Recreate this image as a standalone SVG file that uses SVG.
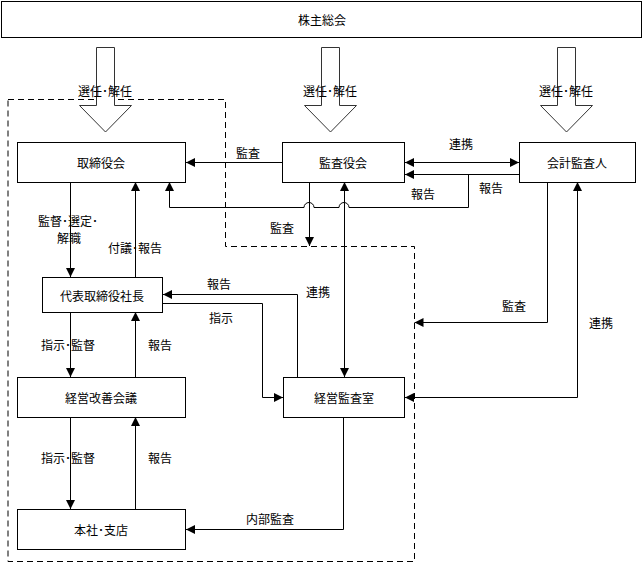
<svg xmlns="http://www.w3.org/2000/svg" width="644" height="564" viewBox="0 0 644 564">
<style>
text{font-family:"Noto Sans CJK JP","Noto Sans CJK SC",sans-serif;font-size:12px;fill:#000;text-anchor:middle;dominant-baseline:central}
.box{fill:#fff;stroke:#000;stroke-width:1}
.ln{fill:none;stroke:#000;stroke-width:1}
.dash{fill:none;stroke:#000;stroke-width:1;stroke-dasharray:6 4}
.big{fill:#fff;stroke:#333;stroke-width:1}
</style>
<defs>
<marker id="ah" viewBox="0 0 10 10" refX="10" refY="5" markerWidth="9" markerHeight="9" markerUnits="userSpaceOnUse" orient="auto-start-reverse">
<path d="M0,0 L10,5 L0,10 Z" fill="#000"/>
</marker>
</defs>
<rect width="644" height="564" fill="#fff"/>
<path class="dash" d="M8,99.5 H225.5 V246.5 H414.5 V561.5 H8 Z"/>
<g id="n0"><rect class="box" x="1.5" y="1.5" width="640" height="36"/><text x="322" y="19">株主総会</text></g>
<g id="bigarrows">
<path class="big" d="M96.5,47.5 H114.5 V105.5 H131.5 L105.5,132 L79.5,105.5 H96.5 Z"/>
<path class="big" d="M321.5,47.5 H339.5 V105.5 H356.5 L330.5,132 L304.5,105.5 H321.5 Z"/>
<path class="big" d="M557.5,47.5 H575.5 V105.5 H592.5 L566.5,132 L540.5,105.5 H557.5 Z"/>
<text x="105" y="90">選任･解任</text>
<text x="330" y="90">選任･解任</text>
<text x="566" y="90">選任･解任</text>
</g>
<g id="connectors">
<path class="ln" marker-end="url(#ah)" d="M282,162.5 H186"/>
<path class="ln" marker-start="url(#ah)" marker-end="url(#ah)" d="M405,162.5 H519"/>
<path class="ln" marker-end="url(#ah)" d="M519,174.5 H405"/>
<path class="ln" marker-end="url(#ah)" d="M468.5,174.5 V207.5 H349 A5,5 0 0 0 339,207.5 H314 A5,5 0 0 0 304,207.5 H169.5 V182"/>
<path class="ln" marker-end="url(#ah)" d="M309.5,182 V246"/>
<path class="ln" marker-start="url(#ah)" marker-end="url(#ah)" d="M344.5,182 V377"/>
<path class="ln" marker-end="url(#ah)" d="M70.5,182 V277"/>
<path class="ln" marker-end="url(#ah)" d="M135.5,277 V182"/>
<path class="ln" marker-end="url(#ah)" d="M297.5,377 V294.5 H163"/>
<path class="ln" marker-end="url(#ah)" d="M163,303.5 H262.5 V397.5 H283"/>
<path class="ln" marker-end="url(#ah)" d="M547.5,182 V322.5 H414.5"/>
<path class="ln" marker-start="url(#ah)" marker-end="url(#ah)" d="M577.5,182 V397.5 H405"/>
<path class="ln" marker-end="url(#ah)" d="M70.5,312 V377"/>
<path class="ln" marker-end="url(#ah)" d="M135.5,377 V312"/>
<path class="ln" marker-end="url(#ah)" d="M70.5,417 V509"/>
<path class="ln" marker-end="url(#ah)" d="M135.5,509 V417"/>
<path class="ln" marker-end="url(#ah)" d="M343.5,417 V529.5 H186"/>
<text x="248" y="152">監査</text>
<text x="461" y="143">連携</text>
<text x="491" y="187">報告</text>
<text x="423" y="193">報告</text>
<text x="282" y="227">監査</text>
<text x="318" y="291">連携</text>
<text x="68" y="220">監督･選定･</text>
<text x="69" y="237">解職</text>
<text x="135" y="247">付議･報告</text>
<text x="219" y="283">報告</text>
<text x="221" y="317">指示</text>
<text x="514" y="305">監査</text>
<text x="601" y="322">連携</text>
<text x="68" y="344">指示･監督</text>
<text x="160" y="344">報告</text>
<text x="68" y="457">指示･監督</text>
<text x="160" y="457">報告</text>
<text x="270" y="518">内部監査</text>
</g>
<g id="n1"><rect class="box" x="17.5" y="142.5" width="168" height="40"/><text x="101" y="162">取締役会</text></g>
<g id="n2"><rect class="box" x="282.5" y="142.5" width="122" height="40"/><text x="343" y="162">監査役会</text></g>
<g id="n3"><rect class="box" x="519.5" y="142.5" width="116" height="40"/><text x="577" y="162">会計監査人</text></g>
<g id="n4"><rect class="box" x="42.5" y="277.5" width="120" height="35"/><text x="102" y="295">代表取締役社長</text></g>
<g id="n5"><rect class="box" x="17.5" y="377.5" width="168" height="40"/><text x="101" y="397">経営改善会議</text></g>
<g id="n6"><rect class="box" x="283.5" y="377.5" width="121" height="40"/><text x="344" y="397">経営監査室</text></g>
<g id="n7"><rect class="box" x="17.5" y="509.5" width="168" height="40"/><text x="101" y="529">本社･支店</text></g>
</svg>
